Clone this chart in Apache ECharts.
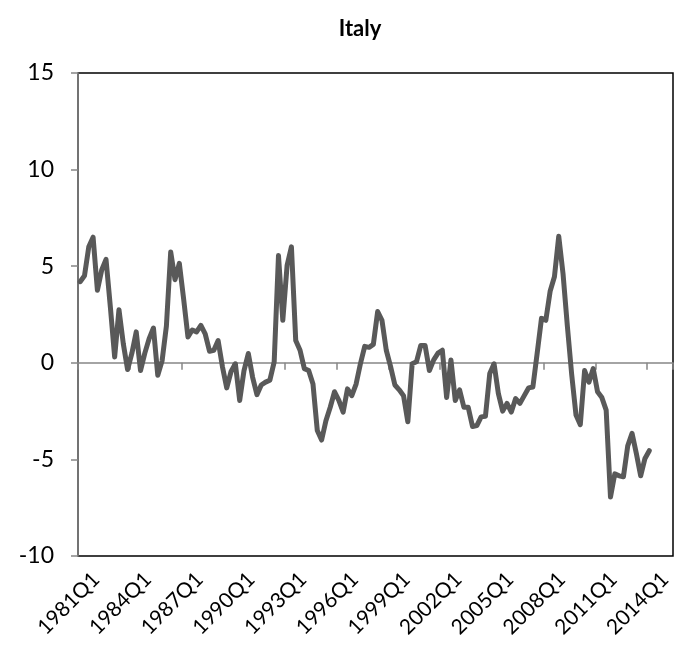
<!DOCTYPE html>
<html>
<head>
<meta charset="utf-8">
<script src="https://cdn.jsdelivr.net/npm/echarts@6/dist/echarts.min.js"></script>
<style>
  html, body { margin: 0; padding: 0; background: #fff; }
  #chart { width: 680px; height: 657px; }
</style>
</head>
<body>
<div id="chart"></div>
<script>
// quarters 1981Q1 .. 2015Q2 (axis runs past the last observation)
var firstYear = 1981;
var nQuarters = 138;
var quarters = [];
for (var q = 0; q < nQuarters; q++) {
    quarters.push((firstYear + Math.floor(q / 4)) + 'Q' + (q % 4 + 1));
}

// Italy, 1981Q1 .. 2014Q1
var italy = [
    4.2, 4.5, 6.0, 6.5, 3.75, 4.8, 5.35, 2.9, 0.3, 2.75, 1.0, -0.35,
    0.5, 1.6, -0.4, 0.5, 1.25, 1.8, -0.65, 0.1, 1.9, 5.74, 4.3, 5.15,
    3.3, 1.34, 1.7, 1.6, 1.94, 1.5, 0.6, 0.65, 1.15, -0.2, -1.3, -0.45,
    -0.05, -1.95, -0.4, 0.48, -0.75, -1.65, -1.15, -1.0, -0.9, 0.05, 5.55, 2.2,
    5.05, 6.0, 1.15, 0.65, -0.3, -0.4, -1.1, -3.5, -4.0, -3.0, -2.3, -1.5,
    -1.95, -2.55, -1.35, -1.7, -1.1, -0.05, 0.85, 0.8, 0.95, 2.65, 2.2, 0.65,
    -0.2, -1.15, -1.4, -1.7, -3.05, -0.05, 0.05, 0.9, 0.9, -0.4, 0.15, 0.5,
    0.65, -1.8, 0.15, -1.95, -1.4, -2.3, -2.3, -3.3, -3.25, -2.8, -2.77, -0.55,
    -0.05, -1.6, -2.5, -2.1, -2.55, -1.85, -2.1, -1.7, -1.3, -1.25, 0.5, 2.3,
    2.2, 3.7, 4.45, 6.55, 4.6, 1.9, -0.6, -2.7, -3.2, -0.4, -1.0, -0.3,
    -1.5, -1.8, -2.45, -6.95, -5.75, -5.85, -5.9, -4.3, -3.65, -4.7, -5.85, -4.95,
    -4.55
];

var yMin = -10, yMax = 15, yStep = 5;

var chart = echarts.init(document.getElementById('chart'), null, {renderer: 'canvas'});

var fontFam = 'Lato, "Liberation Sans", sans-serif';

var option = {
    backgroundColor: '#ffffff',
    animation: false,
    title: {
        text: 'Italy',
        left: 355,
        top: 13,
        textAlign: 'center',
        textStyle: {fontFamily: fontFam, fontSize: 22, fontWeight: 'bold', color: '#000'}
    },
    grid: {
        left: 78, right: 7, top: 73, bottom: 101,
        show: true,
        borderColor: '#000',
        borderWidth: 1.5,
        backgroundColor: 'transparent'
    },
    xAxis: [
        {
            // bottom axis: labels only
            type: 'category',
            data: quarters,
            position: 'bottom',
            boundaryGap: true,
            axisLine: {show: false, onZero: false},
            axisTick: {show: false},
            splitLine: {show: false},
            axisLabel: {
                interval: 11,
                rotate: 45,
                margin: 4,
                verticalAlign: 'top',
                padding: [12, 0, 0, 0],
                fontFamily: fontFam,
                fontSize: 21,
                color: '#000'
            }
        },
        {
            // axis crossing at zero
            type: 'category',
            data: quarters,
            position: 'top',
            boundaryGap: true,
            axisLine: {show: true, onZero: true, lineStyle: {color: '#868686', width: 1.5}},
            axisTick: {show: true, inside: true, interval: 11, length: 7, lineStyle: {color: '#868686', width: 1.5}},
            axisLabel: {show: false},
            splitLine: {show: false}
        }
    ],
    yAxis: {
        type: 'value',
        min: yMin,
        max: yMax,
        interval: yStep,
        axisLine: {show: true, lineStyle: {color: '#868686', width: 1.5}},
        axisTick: {show: true, length: 7, lineStyle: {color: '#868686', width: 1.5}},
        splitLine: {show: false},
        axisLabel: {fontFamily: fontFam, fontSize: 23, color: '#000', margin: 24}
    },
    series: [{
        name: 'Italy',
        type: 'line',
        xAxisIndex: 0,
        data: italy,
        showSymbol: false,
        smooth: false,
        lineStyle: {color: '#595959', width: 5, cap: 'round', join: 'round'}
    }]
};

chart.setOption(option);
</script>
</body>
</html>
